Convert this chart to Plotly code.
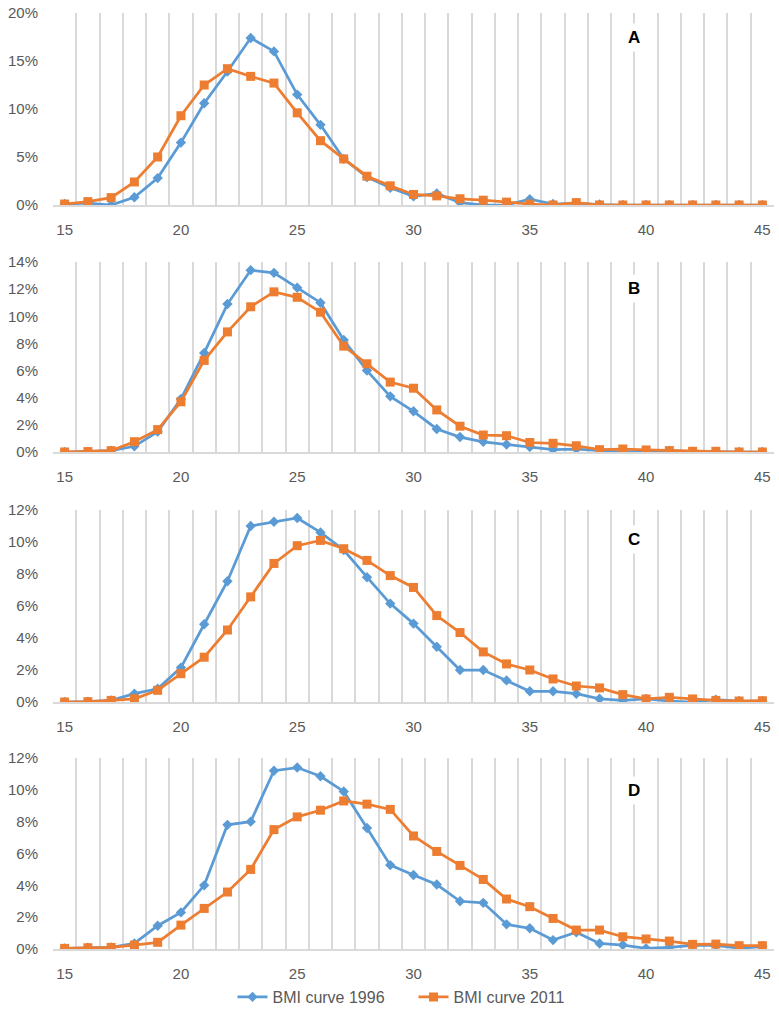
import plotly.graph_objects as go

bmi = list(range(15, 46))

a_1996 = [0.1, 0.2, 0.0, 0.8, 2.8, 6.5, 10.6, 13.9, 17.4, 16.0, 11.5, 8.35, 4.8, 2.9, 1.8,
          0.9, 1.2, 0.25, 0.0, 0.0, 0.6, 0.1, 0.2, 0.05, 0, 0, 0, 0, 0, 0, 0]
a_2011 = [0.1, 0.35, 0.77, 2.4, 5.0, 9.3, 12.5, 14.2, 13.4, 12.7, 9.6, 6.7, 4.8, 3.0, 2.0,
          1.1, 0.95, 0.65, 0.5, 0.3, 0.1, 0.0, 0.25, 0, 0, 0, 0, 0, 0, 0, 0]

b_1996 = [0, 0.03, 0.1, 0.42, 1.5, 3.9, 7.3, 10.9, 13.4, 13.2, 12.1, 11.0, 8.25, 6.0, 4.1,
          3.0, 1.7, 1.1, 0.75, 0.55, 0.37, 0.17, 0.22, 0.12, 0.0, 0.05, 0.1, 0.03, 0.02, 0.0, 0.0]
b_2011 = [0, 0.03, 0.1, 0.76, 1.65, 3.7, 6.75, 8.85, 10.7, 11.8, 11.4, 10.3, 7.8, 6.5, 5.15,
          4.7, 3.1, 1.9, 1.25, 1.2, 0.7, 0.64, 0.46, 0.17, 0.22, 0.15, 0.1, 0.05, 0.05, 0, 0]

c_1996 = [0, 0.02, 0.1, 0.52, 0.83, 2.15, 4.86, 7.55, 11.0, 11.27, 11.5, 10.6, 9.5, 7.8, 6.15,
          4.9, 3.45, 2.0, 2.0, 1.35, 0.67, 0.67, 0.52, 0.2, 0.1, 0.19, 0.06, 0.0, 0.15, 0.06, 0.06]
c_2011 = [0, 0.02, 0.1, 0.2, 0.73, 1.77, 2.8, 4.5, 6.57, 8.66, 9.77, 10.1, 9.58, 8.85, 7.9,
          7.16, 5.4, 4.34, 3.13, 2.38, 2.0, 1.44, 1.0, 0.88, 0.46, 0.19, 0.29, 0.19, 0.1, 0.06, 0.08]

d_1996 = [0.04, 0.08, 0.1, 0.35, 1.46, 2.3, 4.0, 7.8, 8.0, 11.2, 11.4, 10.85, 9.9, 7.6, 5.27,
          4.65, 4.05, 3.0, 2.9, 1.55, 1.3, 0.56, 1.05, 0.35, 0.25, 0.04, 0.1, 0.23, 0.23, 0.05, 0.15]
d_2011 = [0.04, 0.08, 0.1, 0.25, 0.42, 1.5, 2.55, 3.58, 5.0, 7.5, 8.3, 8.72, 9.3, 9.1, 8.77,
          7.1, 6.13, 5.25, 4.37, 3.14, 2.66, 1.92, 1.19, 1.19, 0.77, 0.63, 0.5, 0.29, 0.31, 0.21, 0.21]

panel_labels = ["A", "B", "C", "D"]
y_max = [20, 14, 12, 12]
y_step = [5, 2, 2, 2]
xticks = [15, 20, 25, 30, 35, 40, 45]

W, H = 779, 1010
# pixel extents of each plot area (top, bottom)
px_extent = [(13, 205), (262, 452), (510, 702), (758, 949)]
label_frac = [0.87, 0.863, 0.844, 0.832]

BLUE = "#5B9BD5"
ORANGE = "#ED7D31"
TXT = "#595959"
GRID = "#D9D9D9"
FONT = "Liberation Sans, Arial, sans-serif"

series = [(a_1996, a_2011), (b_1996, b_2011), (c_1996, c_2011), (d_1996, d_2011)]

fig = go.Figure()
layout = {}
for i, (s96, s11) in enumerate(series):
    xa = "x" if i == 0 else f"x{i+1}"
    ya = "y" if i == 0 else f"y{i+1}"
    fig.add_trace(go.Scatter(
        x=bmi, y=s96, xaxis=xa, yaxis=ya, mode="lines+markers",
        name="BMI curve 1996", legendgroup="1996", showlegend=(i == 0),
        line=dict(color=BLUE, width=2.75),
        marker=dict(symbol="diamond", size=8, color=BLUE),
    ))
    fig.add_trace(go.Scatter(
        x=bmi, y=s11, xaxis=xa, yaxis=ya, mode="lines+markers",
        name="BMI curve 2011", legendgroup="2011", showlegend=(i == 0),
        line=dict(color=ORANGE, width=2.75),
        marker=dict(symbol="square", size=9, color=ORANGE),
    ))
    top, bot = px_extent[i]
    dom = [(H - bot) / H, (H - top) / H]
    layout["xaxis" if i == 0 else f"xaxis{i+1}"] = dict(
        domain=[0, 1], anchor=ya, range=[14.5, 45.5],
        tickvals=xticks, ticktext=[str(v) for v in xticks],
        showgrid=False, zeroline=False,
        minor=dict(tick0=14.5, dtick=1, showgrid=True, gridcolor=GRID, gridwidth=2),
        showline=True, linecolor=GRID, linewidth=1.5,
        ticks="", ticklabelstandoff=10,
        tickfont=dict(size=15, color=TXT, family=FONT),
    )
    layout["yaxis" if i == 0 else f"yaxis{i+1}"] = dict(
        domain=dom, anchor=xa, range=[0, y_max[i]], dtick=y_step[i], tick0=0,
        ticksuffix="%", showgrid=False, zeroline=False, showline=False,
        ticks="", ticklabelstandoff=14,
        tickfont=dict(size=15, color=TXT, family=FONT),
    )
    fig.add_annotation(
        x=39.5, y=label_frac[i], xref=xa, yref=f"{ya} domain",
        xanchor="center", yanchor="middle",
        text=f"<b>{panel_labels[i]}</b>", showarrow=False,
        font=dict(size=17, color="black", family=FONT),
        bgcolor="white", borderpad=4,
    )

fig.update_layout(
    **layout,
    width=W, height=H,
    margin=dict(l=53, r=5, t=0, b=0, autoexpand=False),
    paper_bgcolor="white", plot_bgcolor="white",
    showlegend=True,
    legend=dict(orientation="h", x=0.5, xanchor="center", y=(H - 997) / H, yanchor="middle",
                font=dict(size=16, color=TXT, family=FONT), itemwidth=30,
                entrywidth=136, entrywidthmode="pixels"),
    font=dict(family=FONT, color=TXT),
)

fig.write_html("out.html", config={"displayModeBar": False},
               post_script="document.body.style.margin='0';")
